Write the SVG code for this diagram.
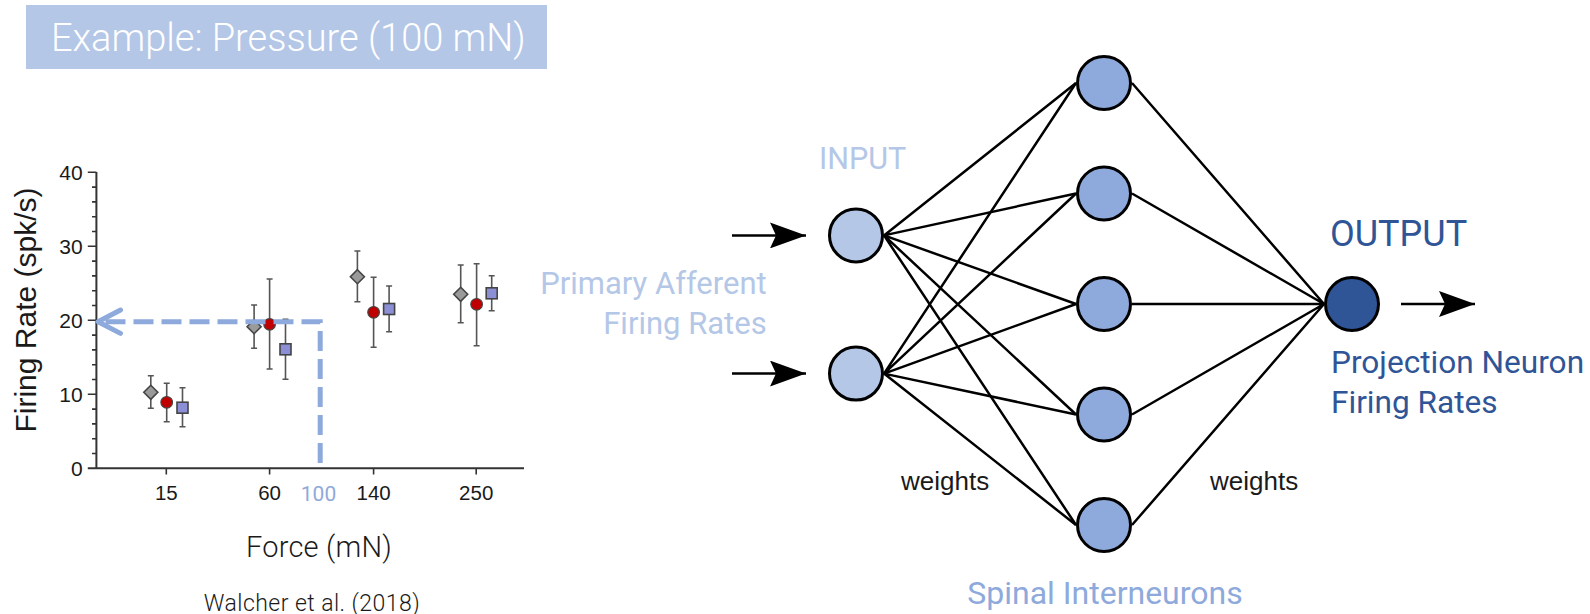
<svg xmlns="http://www.w3.org/2000/svg" width="1590" height="614" viewBox="0 0 1590 614">
<defs>
<style>
.rb{font-family:Roboto,"Liberation Sans",sans-serif}
.ax{font-family:"Liberation Sans",Arial,sans-serif;fill:#1a1a1a}
.axis{stroke:#333;stroke-width:2;fill:none}
.tk{stroke:#333;stroke-width:1.6}
.err{stroke:#555;stroke-width:1.6;fill:none}
.dia{fill:#9a9a9a;stroke:#444;stroke-width:1.6}
.dot{fill:#c00000;stroke:#444;stroke-width:1.2}
.sq{fill:#8c8fd6;stroke:#444;stroke-width:1.6}
.dash{stroke:#8ea9db;stroke-width:5;fill:none}
.edge{stroke:#000;stroke-width:2.5;fill:none}
.arr{stroke:#000;stroke-width:2.5;fill:none;marker-end:url(#ah)}
.node{stroke:#000;stroke-width:3}
.in{fill:#b4c7e7}
.hid{fill:#8ea9db}
.out{fill:#2f5597}
</style>
<marker id="ah" viewBox="0 0 36 26" refX="36" refY="13" markerWidth="36" markerHeight="26" markerUnits="userSpaceOnUse" orient="auto">
<path d="M36 13 L0 0 L6 13 L0 26 Z" fill="#000"/>
</marker>
</defs>
<rect width="1590" height="614" fill="#fff"/>

<g id="title">
<rect x="26" y="5" width="521" height="64" fill="#b4c7e7"/>
<text class="rb" x="51" y="51" font-size="38" font-weight="300" fill="#fff">Example: Pressure (100 mN)</text>
</g>

<g id="chart">
<path class="axis" d="M96.4 172 V468.3 M87.8 468.3 H524"/>
<g class="tk">
<path d="M87.8 172.3H96.4M87.8 246.3H96.4M87.8 320.3H96.4M87.8 394.3H96.4"/>
<path d="M92 187.1H96.4M92 201.9H96.4M92 216.7H96.4M92 231.5H96.4M92 261.1H96.4M92 275.9H96.4M92 290.7H96.4M92 305.5H96.4M92 335.1H96.4M92 349.9H96.4M92 364.7H96.4M92 379.5H96.4M92 409.1H96.4M92 423.9H96.4M92 438.7H96.4M92 453.5H96.4"/>
<path d="M166.3 468.3V474.5M269.6 468.3V474.5M373.6 468.3V474.5M476.2 468.3V474.5"/>
</g>
<g class="ax" font-size="21" text-anchor="end">
<text x="82.6" y="179.8">40</text>
<text x="82.6" y="253.8">30</text>
<text x="82.6" y="327.8">20</text>
<text x="82.6" y="401.8">10</text>
<text x="82.6" y="475.8">0</text>
</g>
<g class="ax" font-size="20.5" text-anchor="middle">
<text x="166.3" y="500">15</text>
<text x="269.6" y="500">60</text>
<text x="373.6" y="500">140</text>
<text x="476.2" y="500">250</text>
</g>
<text class="ax" font-size="30" text-anchor="middle" transform="translate(35.5 310) rotate(-90)">Firing Rate (spk/s)</text>
<text class="rb" x="319" y="557" font-size="29" font-weight="300" letter-spacing="0.2" text-anchor="middle" fill="#1a1a1a">Force (mN)</text>
<text class="rb" x="312" y="610.5" font-size="23" font-weight="300" letter-spacing="0.45" text-anchor="middle" fill="#1a1a1a">Walcher et al. (2018)</text>
<text class="rb" x="318.5" y="500.5" font-size="21" text-anchor="middle" fill="#8ea9db">100</text>

<g id="errorbars" class="err">
<path d="M150.8 375.7V408.3M147.8 375.7h6M147.8 408.3h6"/>
<path d="M166.7 383.3V421.7M163.7 383.3h6M163.7 421.7h6"/>
<path d="M182.5 387.7V426.7M179.5 387.7h6M179.5 426.7h6"/>
<path d="M254.1 305V348.3M251.1 305h6M251.1 348.3h6"/>
<path d="M269.6 279V369M266.6 279h6M266.6 369h6"/>
<path d="M285.5 319.3V379.3M282.5 319.3h6M282.5 379.3h6"/>
<path d="M357.4 251V301.7M354.4 251h6M354.4 301.7h6"/>
<path d="M373.6 277.3V347.3M370.6 277.3h6M370.6 347.3h6"/>
<path d="M389.1 286V331.7M386.1 286h6M386.1 331.7h6"/>
<path d="M460.7 265V322.7M457.7 265h6M457.7 322.7h6"/>
<path d="M476.6 263.7V345.7M473.6 263.7h6M473.6 345.7h6"/>
<path d="M491.7 275.7V310.7M488.7 275.7h6M488.7 310.7h6"/>
</g>
<g id="markers">
<path class="dia" d="M150.8 385.3l7 7l-7 7l-7 -7Z"/>
<path class="dia" d="M254.1 319.7l7 7l-7 7l-7 -7Z"/>
<path class="dia" d="M357.4 269.7l7 7l-7 7l-7 -7Z"/>
<path class="dia" d="M460.7 287.3l7 7l-7 7l-7 -7Z"/>
<circle class="dot" cx="166.7" cy="402.3" r="5.8"/>
<circle class="dot" cx="269.6" cy="324.3" r="5.8"/>
<circle class="dot" cx="373.6" cy="312.3" r="5.8"/>
<circle class="dot" cx="476.6" cy="304.3" r="5.8"/>
<rect class="sq" x="177" y="402.2" width="11" height="11"/>
<rect class="sq" x="280" y="343.8" width="11" height="11"/>
<rect class="sq" x="383.6" y="303.5" width="11" height="11"/>
<rect class="sq" x="486.2" y="287.8" width="11" height="11"/>
</g>
<g id="readout">
<path class="dash" d="M320.2 463 V321.7 H101" stroke-dasharray="20 8"/>
<path class="dash" d="M120.5 310 L98 321.7 L120.5 333.4" stroke-linejoin="round" stroke-linecap="round"/>
</g>
</g>

<g id="connectors">
<path class="edge" d="M884 235.4L1076 83M884 235.4L1076 193.5M884 235.4L1076 304M884 235.4L1076 414.5M884 235.4L1076 525"/>
<path class="edge" d="M884 373.6L1076 83M884 373.6L1076 193.5M884 373.6L1076 304M884 373.6L1076 414.5M884 373.6L1076 525"/>
<path class="edge" d="M1132 83L1324 304M1132 193.5L1324 304M1132 304L1324 304M1132 414.5L1324 304M1132 525L1324 304"/>
<path class="arr" d="M732 235.4H806"/>
<path class="arr" d="M732 373.6H806"/>
<path class="arr" d="M1401 304H1475"/>
</g>

<g id="in1"><circle class="node in" cx="856" cy="235.4" r="26.5"/></g>
<g id="in2"><circle class="node in" cx="856" cy="373.6" r="26.5"/></g>
<g id="h1"><circle class="node hid" cx="1104" cy="83" r="26.5"/></g>
<g id="h2"><circle class="node hid" cx="1104" cy="193.5" r="26.5"/></g>
<g id="h3"><circle class="node hid" cx="1104" cy="304" r="26.5"/></g>
<g id="h4"><circle class="node hid" cx="1104" cy="414.5" r="26.5"/></g>
<g id="h5"><circle class="node hid" cx="1104" cy="525" r="26.5"/></g>
<g id="o1"><circle class="node out" cx="1352" cy="304" r="26.5"/></g>

<g id="labels">
<text class="rb" x="819" y="168.6" font-size="30.5" fill="#b4c7e7">INPUT</text>
<text class="rb" x="766.7" y="294.3" font-size="31" fill="#b4c7e7" text-anchor="end">Primary Afferent</text>
<text class="rb" x="766.7" y="334" font-size="31" fill="#b4c7e7" text-anchor="end">Firing Rates</text>
<text class="ax" x="901" y="490" font-size="26">weights</text>
<text class="ax" x="1210" y="490" font-size="26">weights</text>
<text class="rb" x="1105" y="604" font-size="32" fill="#8ea9db" text-anchor="middle">Spinal Interneurons</text>
<text class="rb" x="1330" y="246" font-size="36" fill="#2f5597">OUTPUT</text>
<text class="rb" x="1331" y="372.9" font-size="31.6" fill="#2f5597">Projection Neuron</text>
<text class="rb" x="1331" y="412.9" font-size="31.6" fill="#2f5597">Firing Rates</text>
</g>
</svg>
